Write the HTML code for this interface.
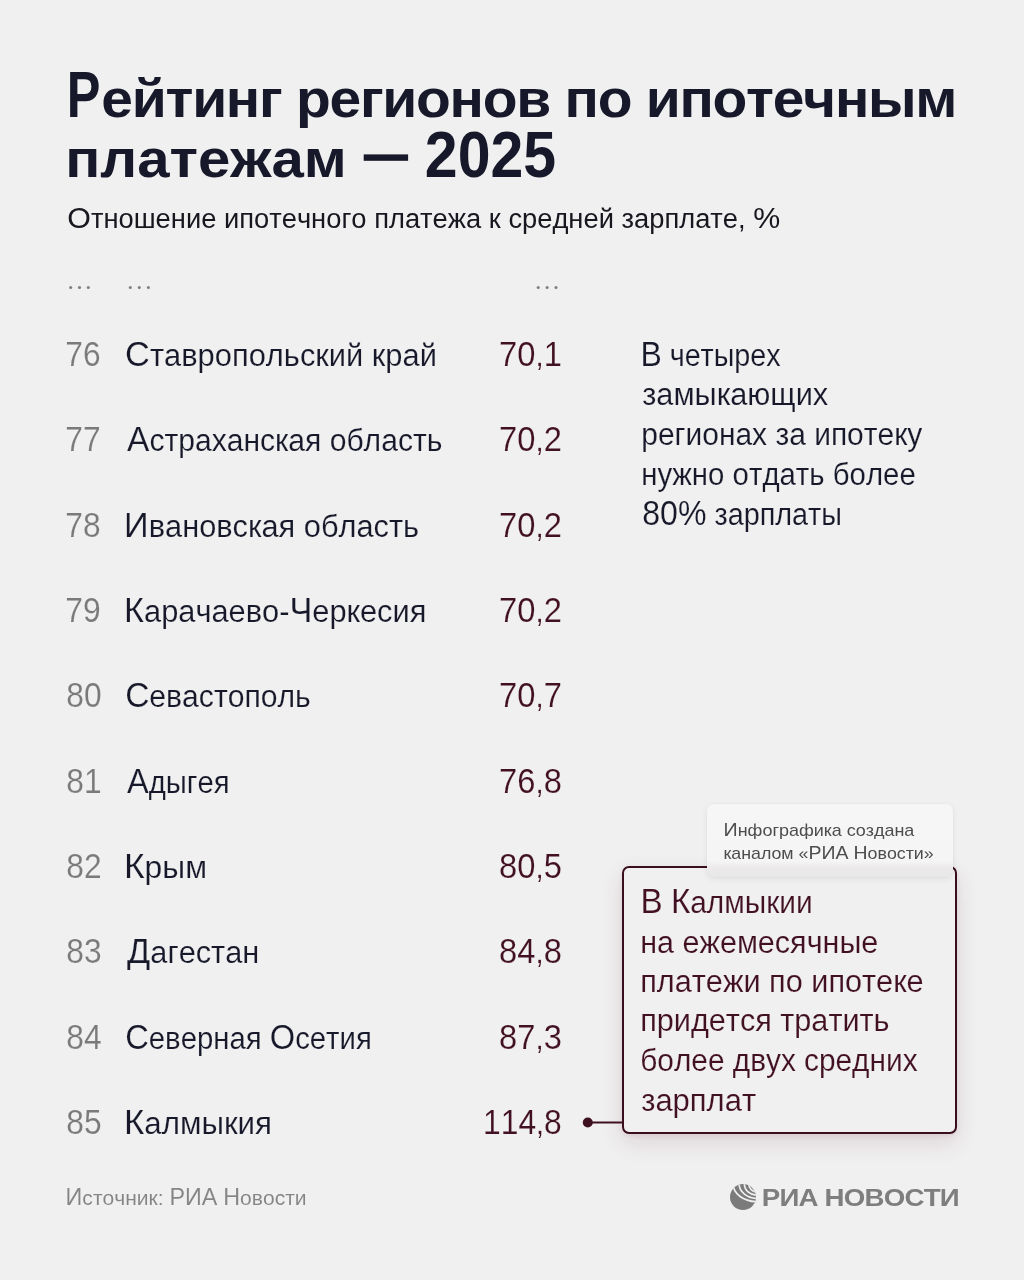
<!DOCTYPE html>
<html><head><meta charset="utf-8"><style>
html,body{margin:0;padding:0;background:#f0f0f0;}
#wrap{position:relative;width:1024px;height:1280px;overflow:hidden;background:#f0f0f0;font-family:"Liberation Sans",sans-serif;}
.callout{position:absolute;left:622px;top:866px;width:331px;height:264px;border:2px solid #3a0e1e;border-radius:7px;background:#f0f0f0;box-shadow:0 9px 22px rgba(110,40,60,0.14),0 2px 5px rgba(110,40,60,0.08);}
.label{position:absolute;left:707px;top:804px;width:246px;height:73px;border-radius:7px;background:linear-gradient(#f6f6f6 0%,#f5f5f5 78%,#ebe9ea 88%,#e9e8e8 100%);box-shadow:0 2px 6px rgba(0,0,0,0.07),0 0 2px rgba(0,0,0,0.05);}
svg{position:absolute;left:0;top:0;will-change:transform;}
text{font-family:"Liberation Sans",sans-serif;font-kerning:none;}
</style></head><body><div id="wrap">
<div class="callout"></div>
<div class="label"></div>
<svg width="1024" height="1280" viewBox="0 0 1024 1280">
<circle cx="70.7" cy="287.5" r="1.55" fill="#808080"/>
<circle cx="79.5" cy="287.5" r="1.55" fill="#808080"/>
<circle cx="88.3" cy="287.5" r="1.55" fill="#808080"/>
<circle cx="130.3" cy="287.5" r="1.55" fill="#808080"/>
<circle cx="139.3" cy="287.5" r="1.55" fill="#808080"/>
<circle cx="148.4" cy="287.5" r="1.55" fill="#808080"/>
<circle cx="538.2" cy="287.5" r="1.55" fill="#808080"/>
<circle cx="547.1" cy="287.5" r="1.55" fill="#808080"/>
<circle cx="556.0" cy="287.5" r="1.55" fill="#808080"/>
<rect x="363.7" y="154.4" width="44.4" height="6.4" fill="#17182a"/>
<line x1="588" y1="1122.5" x2="623" y2="1122.5" stroke="#3e1020" stroke-width="2"/>
<circle cx="587.8" cy="1122.5" r="5" fill="#3e1020"/>
<g id="logo">
  <defs><clipPath id="gc"><circle cx="743" cy="1197.1" r="13"/></clipPath></defs>
  <circle cx="743" cy="1197.1" r="13" fill="#7b7b7b"/>
  <g clip-path="url(#gc)" fill="none" stroke="#f0f0f0" stroke-width="1.7">
    <ellipse cx="757" cy="1184" rx="8.2" ry="8.0"/>
    <ellipse cx="757" cy="1184" rx="12.6" ry="11.2"/>
    <ellipse cx="757" cy="1184" rx="17.8" ry="14.3"/>
    <ellipse cx="757" cy="1184" rx="23.9" ry="17.6"/>
  </g>
</g>
<text x="101.39" y="117.40" font-weight="700" fill="#17182a" style="letter-spacing:-1.2px" textLength="854.86" lengthAdjust="spacingAndGlyphs"><tspan font-size="54">ейтинг регионов по ипотечным</tspan></text>
<text x="66.64" y="117.40" font-weight="700" fill="#17182a" style="letter-spacing:-1.2px" textLength="32.75" lengthAdjust="spacingAndGlyphs"><tspan font-size="64">Р</tspan></text>
<text x="65.20" y="177.20" font-weight="700" fill="#17182a" textLength="281.59" lengthAdjust="spacingAndGlyphs"><tspan font-size="54">платежам</tspan></text>
<text x="424.86" y="177.20" font-weight="700" fill="#17182a" textLength="131.21" lengthAdjust="spacingAndGlyphs"><tspan font-size="64">2025</tspan></text>
<text x="67.29" y="228.20" font-weight="400" fill="#17171f" textLength="712.94" lengthAdjust="spacingAndGlyphs"><tspan font-size="30">О</tspan><tspan font-size="27">тношение ипотечного платежа к средней зарплате, </tspan><tspan font-size="30">%</tspan></text>
<text x="65.36" y="366.00" font-weight="400" fill="#7a7a7a" stroke="#f0f0f0" stroke-width="0.15" textLength="35.30" lengthAdjust="spacingAndGlyphs"><tspan font-size="34.5">76</tspan></text>
<text x="125.11" y="366.00" font-weight="400" fill="#17182a" stroke="#f0f0f0" stroke-width="0.15" textLength="311.83" lengthAdjust="spacingAndGlyphs"><tspan font-size="34.5">С</tspan><tspan font-size="31">тавропольский край</tspan></text>
<text x="499.10" y="366.00" font-weight="400" fill="#421023" stroke="#f0f0f0" stroke-width="0.15" textLength="62.72" lengthAdjust="spacingAndGlyphs"><tspan font-size="34.5">70</tspan><tspan font-size="31">,</tspan><tspan font-size="34.5">1</tspan></text>
<text x="65.36" y="451.33" font-weight="400" fill="#7a7a7a" stroke="#f0f0f0" stroke-width="0.15" textLength="35.30" lengthAdjust="spacingAndGlyphs"><tspan font-size="34.5">77</tspan></text>
<text x="127.10" y="451.33" font-weight="400" fill="#17182a" stroke="#f0f0f0" stroke-width="0.15" textLength="315.31" lengthAdjust="spacingAndGlyphs"><tspan font-size="34.5">А</tspan><tspan font-size="31">страханская область</tspan></text>
<text x="499.10" y="451.33" font-weight="400" fill="#421023" stroke="#f0f0f0" stroke-width="0.15" textLength="62.72" lengthAdjust="spacingAndGlyphs"><tspan font-size="34.5">70</tspan><tspan font-size="31">,</tspan><tspan font-size="34.5">2</tspan></text>
<text x="65.36" y="536.66" font-weight="400" fill="#7a7a7a" stroke="#f0f0f0" stroke-width="0.15" textLength="35.30" lengthAdjust="spacingAndGlyphs"><tspan font-size="34.5">78</tspan></text>
<text x="124.12" y="536.66" font-weight="400" fill="#17182a" stroke="#f0f0f0" stroke-width="0.15" textLength="294.99" lengthAdjust="spacingAndGlyphs"><tspan font-size="34.5">И</tspan><tspan font-size="31">вановская область</tspan></text>
<text x="499.10" y="536.66" font-weight="400" fill="#421023" stroke="#f0f0f0" stroke-width="0.15" textLength="62.72" lengthAdjust="spacingAndGlyphs"><tspan font-size="34.5">70</tspan><tspan font-size="31">,</tspan><tspan font-size="34.5">2</tspan></text>
<text x="65.36" y="621.99" font-weight="400" fill="#7a7a7a" stroke="#f0f0f0" stroke-width="0.15" textLength="35.30" lengthAdjust="spacingAndGlyphs"><tspan font-size="34.5">79</tspan></text>
<text x="124.12" y="621.99" font-weight="400" fill="#17182a" stroke="#f0f0f0" stroke-width="0.15" textLength="302.25" lengthAdjust="spacingAndGlyphs"><tspan font-size="34.5">К</tspan><tspan font-size="31">арачаево-</tspan><tspan font-size="34.5">Ч</tspan><tspan font-size="31">еркесия</tspan></text>
<text x="499.10" y="621.99" font-weight="400" fill="#421023" stroke="#f0f0f0" stroke-width="0.15" textLength="62.72" lengthAdjust="spacingAndGlyphs"><tspan font-size="34.5">70</tspan><tspan font-size="31">,</tspan><tspan font-size="34.5">2</tspan></text>
<text x="66.28" y="707.32" font-weight="400" fill="#7a7a7a" stroke="#f0f0f0" stroke-width="0.15" textLength="35.30" lengthAdjust="spacingAndGlyphs"><tspan font-size="34.5">80</tspan></text>
<text x="125.16" y="707.32" font-weight="400" fill="#17182a" stroke="#f0f0f0" stroke-width="0.15" textLength="185.59" lengthAdjust="spacingAndGlyphs"><tspan font-size="34.5">С</tspan><tspan font-size="31">евастополь</tspan></text>
<text x="499.10" y="707.32" font-weight="400" fill="#421023" stroke="#f0f0f0" stroke-width="0.15" textLength="62.72" lengthAdjust="spacingAndGlyphs"><tspan font-size="34.5">70</tspan><tspan font-size="31">,</tspan><tspan font-size="34.5">7</tspan></text>
<text x="66.28" y="792.65" font-weight="400" fill="#7a7a7a" stroke="#f0f0f0" stroke-width="0.15" textLength="35.30" lengthAdjust="spacingAndGlyphs"><tspan font-size="34.5">81</tspan></text>
<text x="127.10" y="792.65" font-weight="400" fill="#17182a" stroke="#f0f0f0" stroke-width="0.15" textLength="102.54" lengthAdjust="spacingAndGlyphs"><tspan font-size="34.5">А</tspan><tspan font-size="31">дыгея</tspan></text>
<text x="499.10" y="792.65" font-weight="400" fill="#421023" stroke="#f0f0f0" stroke-width="0.15" textLength="62.72" lengthAdjust="spacingAndGlyphs"><tspan font-size="34.5">76</tspan><tspan font-size="31">,</tspan><tspan font-size="34.5">8</tspan></text>
<text x="66.28" y="877.98" font-weight="400" fill="#7a7a7a" stroke="#f0f0f0" stroke-width="0.15" textLength="35.30" lengthAdjust="spacingAndGlyphs"><tspan font-size="34.5">82</tspan></text>
<text x="124.02" y="877.98" font-weight="400" fill="#17182a" stroke="#f0f0f0" stroke-width="0.15" textLength="82.98" lengthAdjust="spacingAndGlyphs"><tspan font-size="34.5">К</tspan><tspan font-size="31">рым</tspan></text>
<text x="499.10" y="877.98" font-weight="400" fill="#421023" stroke="#f0f0f0" stroke-width="0.15" textLength="62.72" lengthAdjust="spacingAndGlyphs"><tspan font-size="34.5">80</tspan><tspan font-size="31">,</tspan><tspan font-size="34.5">5</tspan></text>
<text x="66.28" y="963.31" font-weight="400" fill="#7a7a7a" stroke="#f0f0f0" stroke-width="0.15" textLength="35.30" lengthAdjust="spacingAndGlyphs"><tspan font-size="34.5">83</tspan></text>
<text x="127.10" y="963.31" font-weight="400" fill="#17182a" stroke="#f0f0f0" stroke-width="0.15" textLength="132.22" lengthAdjust="spacingAndGlyphs"><tspan font-size="34.5">Д</tspan><tspan font-size="31">агестан</tspan></text>
<text x="499.10" y="963.31" font-weight="400" fill="#421023" stroke="#f0f0f0" stroke-width="0.15" textLength="62.72" lengthAdjust="spacingAndGlyphs"><tspan font-size="34.5">84</tspan><tspan font-size="31">,</tspan><tspan font-size="34.5">8</tspan></text>
<text x="66.28" y="1048.64" font-weight="400" fill="#7a7a7a" stroke="#f0f0f0" stroke-width="0.15" textLength="35.30" lengthAdjust="spacingAndGlyphs"><tspan font-size="34.5">84</tspan></text>
<text x="125.21" y="1048.64" font-weight="400" fill="#17182a" stroke="#f0f0f0" stroke-width="0.15" textLength="246.56" lengthAdjust="spacingAndGlyphs"><tspan font-size="34.5">С</tspan><tspan font-size="31">еверная </tspan><tspan font-size="34.5">О</tspan><tspan font-size="31">сетия</tspan></text>
<text x="499.10" y="1048.64" font-weight="400" fill="#421023" stroke="#f0f0f0" stroke-width="0.15" textLength="62.72" lengthAdjust="spacingAndGlyphs"><tspan font-size="34.5">87</tspan><tspan font-size="31">,</tspan><tspan font-size="34.5">3</tspan></text>
<text x="66.28" y="1133.97" font-weight="400" fill="#7a7a7a" stroke="#f0f0f0" stroke-width="0.15" textLength="35.30" lengthAdjust="spacingAndGlyphs"><tspan font-size="34.5">85</tspan></text>
<text x="124.07" y="1133.97" font-weight="400" fill="#17182a" stroke="#f0f0f0" stroke-width="0.15" textLength="147.94" lengthAdjust="spacingAndGlyphs"><tspan font-size="34.5">К</tspan><tspan font-size="31">алмыкия</tspan></text>
<text x="483.03" y="1133.97" font-weight="400" fill="#421023" stroke="#f0f0f0" stroke-width="0.15" textLength="78.73" lengthAdjust="spacingAndGlyphs"><tspan font-size="34.5">114</tspan><tspan font-size="31">,</tspan><tspan font-size="34.5">8</tspan></text>
<text x="640.42" y="365.90" font-weight="400" fill="#17182a" stroke="#f0f0f0" stroke-width="0.15" textLength="140.23" lengthAdjust="spacingAndGlyphs"><tspan font-size="34.5">В</tspan><tspan font-size="31"> четырех</tspan></text>
<text x="642.21" y="405.40" font-weight="400" fill="#17182a" stroke="#f0f0f0" stroke-width="0.15" textLength="186.03" lengthAdjust="spacingAndGlyphs"><tspan font-size="31">замыкающих</tspan></text>
<text x="641.27" y="445.00" font-weight="400" fill="#17182a" stroke="#f0f0f0" stroke-width="0.15" textLength="280.98" lengthAdjust="spacingAndGlyphs"><tspan font-size="31">регионах за ипотеку</tspan></text>
<text x="641.30" y="484.80" font-weight="400" fill="#17182a" stroke="#f0f0f0" stroke-width="0.15" textLength="274.50" lengthAdjust="spacingAndGlyphs"><tspan font-size="31">нужно отдать более</tspan></text>
<text x="642.27" y="524.70" font-weight="400" fill="#17182a" stroke="#f0f0f0" stroke-width="0.15" textLength="199.76" lengthAdjust="spacingAndGlyphs"><tspan font-size="34.5">80%</tspan><tspan font-size="31"> зарплаты</tspan></text>
<text x="640.41" y="913.30" font-weight="400" fill="#421023" stroke="#f0f0f0" stroke-width="0.15" textLength="172.30" lengthAdjust="spacingAndGlyphs"><tspan font-size="34.5">В</tspan><tspan font-size="31"> </tspan><tspan font-size="34.5">К</tspan><tspan font-size="31">алмыкии</tspan></text>
<text x="640.23" y="952.70" font-weight="400" fill="#421023" stroke="#f0f0f0" stroke-width="0.15" textLength="238.08" lengthAdjust="spacingAndGlyphs"><tspan font-size="31">на ежемесячные</tspan></text>
<text x="640.22" y="992.00" font-weight="400" fill="#421023" stroke="#f0f0f0" stroke-width="0.15" textLength="283.42" lengthAdjust="spacingAndGlyphs"><tspan font-size="31">платежи по ипотеке</tspan></text>
<text x="640.22" y="1031.40" font-weight="400" fill="#421023" stroke="#f0f0f0" stroke-width="0.15" textLength="249.29" lengthAdjust="spacingAndGlyphs"><tspan font-size="31">придется тратить</tspan></text>
<text x="640.28" y="1071.20" font-weight="400" fill="#421023" stroke="#f0f0f0" stroke-width="0.15" textLength="277.27" lengthAdjust="spacingAndGlyphs"><tspan font-size="31">более двух средних</tspan></text>
<text x="641.20" y="1111.00" font-weight="400" fill="#421023" stroke="#f0f0f0" stroke-width="0.15" textLength="114.91" lengthAdjust="spacingAndGlyphs"><tspan font-size="31">зарплат</tspan></text>
<text x="723.54" y="835.70" font-weight="400" fill="#4d4d4d" textLength="190.81" lengthAdjust="spacingAndGlyphs"><tspan font-size="18.6">И</tspan><tspan font-size="17">нфографика создана</tspan></text>
<text x="723.55" y="858.60" font-weight="400" fill="#4d4d4d" textLength="210.19" lengthAdjust="spacingAndGlyphs"><tspan font-size="17">каналом «</tspan><tspan font-size="18.6">РИА</tspan><tspan font-size="17"> </tspan><tspan font-size="18.6">Н</tspan><tspan font-size="17">овости»</tspan></text>
<text x="65.60" y="1205.00" font-weight="400" fill="#858585" stroke="#f0f0f0" stroke-width="0.05" textLength="240.97" lengthAdjust="spacingAndGlyphs"><tspan font-size="23.3">И</tspan><tspan font-size="21">сточник: </tspan><tspan font-size="23.3">РИА</tspan><tspan font-size="21"> </tspan><tspan font-size="23.3">Н</tspan><tspan font-size="21">овости</tspan></text>
<text x="761.73" y="1205.60" font-weight="700" fill="#7e7e7e" style="letter-spacing:-0.7px" textLength="197.20" lengthAdjust="spacingAndGlyphs"><tspan font-size="24.4">РИА</tspan><tspan font-size="24.4"> </tspan><tspan font-size="24.4">НОВОСТИ</tspan></text>
</svg>
</div></body></html>
